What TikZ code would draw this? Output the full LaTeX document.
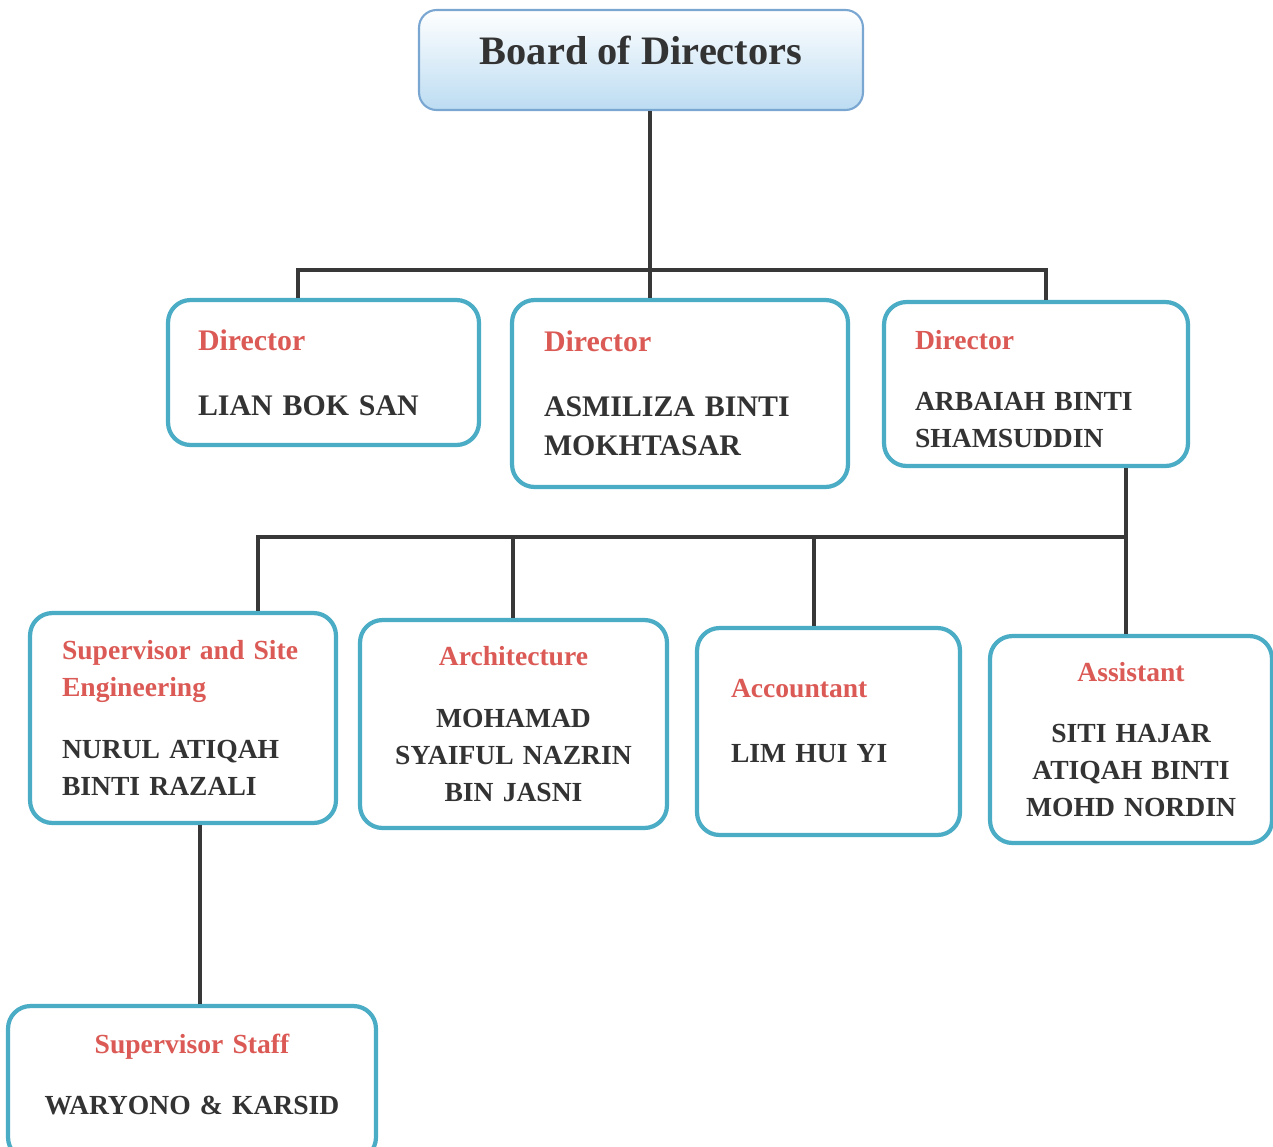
\documentclass[tikz,border=0pt]{standalone}
\usepackage{fontspec}
\setmainfont{Liberation Serif}
\definecolor{ORGblue}{HTML}{4BACC6}
\definecolor{ORGred}{HTML}{DB5A55}
\definecolor{ORGtext}{HTML}{333333}
\definecolor{ORGline}{HTML}{383838}
\definecolor{ORGsky}{HTML}{BCDCF2}
\definecolor{ORGframe}{HTML}{7AA6D2}
\usetikzlibrary{calc, positioning}
\newcommand{\rolehead}[1]{\textcolor{ORGred}{#1}}

\begin{document}
\begin{tikzpicture}[x=0.02cm, y=-0.02cm,
   post/.style={draw=ORGblue, line width=2.4pt, rounded corners=0.45cm, fill=white, text=ORGtext, inner ysep=0pt},
   big/.style={font=\fontsize{17}{22}\selectfont\bfseries},
   small/.style={font=\fontsize{15.7}{21}\selectfont\bfseries},
   link/.style={draw=ORGline, line width=2.8pt}]
   \useasboundingbox (0,0) rectangle (1273,1146);
   % Board
   \node[draw=ORGframe, line width=1.2pt, rounded corners=0.35cm, top color=white, bottom color=ORGsky,
      minimum width=8.88cm, minimum height=2cm, inner sep=0pt, text depth=11pt, text=ORGtext,
      font=\fontsize{23}{28}\selectfont\bfseries] (board) at (641,60) {Board of Directors};
   % Directors
   \node[post, big, align=left, text width=5.02cm, inner xsep=0.6cm, minimum height=2.9cm] (dirLian) at (323.5,372.5)
      {\rolehead{Director}\\[15pt]LIAN BOK SAN};
   \node[post, big, align=left, text width=5.44cm, inner xsep=0.64cm, minimum height=3.74cm] (dirAsmiliza) at (680,393.5)
      {\rolehead{Director}\\[15pt]ASMILIZA BINTI\\MOKHTASAR};
   \node[post, small, align=left, text width=4.84cm, inner xsep=0.62cm, minimum height=3.28cm, text depth=50.5pt] (dirArbaiah) at (1036,384)
      {\rolehead{Director}\\[14pt]ARBAIAH BINTI\\SHAMSUDDIN};
   % Staff under Arbaiah
   \node[post, small, align=left, text width=4.84cm, inner xsep=0.64cm, minimum height=4.2cm] (supSite) at (183,718)
      {\rolehead{Supervisor and Site}\\\rolehead{Engineering}\\[14pt]NURUL ATIQAH\\BINTI RAZALI};
   \node[post, small, align=center, text width=5.74cm, inner xsep=0.2cm, minimum height=4.16cm] (arch) at (513.5,724)
      {\rolehead{Architecture}\\[14pt]MOHAMAD\\SYAIFUL NAZRIN\\BIN JASNI};
   \node[post, small, align=left, text width=3.9cm, inner xsep=0.68cm, minimum height=4.14cm, text depth=49.5pt] (acct) at (828.5,731.5)
      {\rolehead{Accountant}\\[16pt]LIM HUI YI};
   \node[post, small, align=center, text width=5.24cm, inner xsep=0.2cm, minimum height=4.14cm] (asst) at (1131,739.5)
      {\rolehead{Assistant}\\[14pt]SITI HAJAR\\ATIQAH BINTI\\MOHD NORDIN};
   \node[post, small, align=center, text width=6.96cm, inner xsep=0.2cm, minimum height=3.08cm, text depth=45pt] (supStaff) at (192,1083)
      {\rolehead{Supervisor Staff}\\[14pt]WARYONO \& KARSID};
   % Lines from the board
   \coordinate (busTop) at (650,270);
   \coordinate (busTopL) at (298,270);
   \coordinate (busTopR) at (1046,270);
   \draw[link] (board.south -| busTop) -- (busTop |- dirAsmiliza.north);
   \draw[link] (busTopL |- dirLian.north) -- (busTopL) -- (busTopR) -- (busTopR |- dirArbaiah.north);
   % Lines from Arbaiah
   \coordinate (busMidL) at (258,537);
   \coordinate (busMidR) at (1126,537);
   \coordinate (dropArch) at (513,537);
   \coordinate (dropAcct) at (814,537);
   \draw[link] (dirArbaiah.south -| busMidR) -- (busMidR |- asst.north);
   \draw[link] (busMidL |- supSite.north) -- (busMidL) -- (busMidR);
   \draw[link] (dropArch) -- (dropArch |- arch.north);
   \draw[link] (dropAcct) -- (dropAcct |- acct.north);
   % Supervisor staff
   \draw[link] ($(supSite.south)+(17,0)$) -- ($(supStaff.north)+(8,0)$);
\end{tikzpicture}
\end{document}
